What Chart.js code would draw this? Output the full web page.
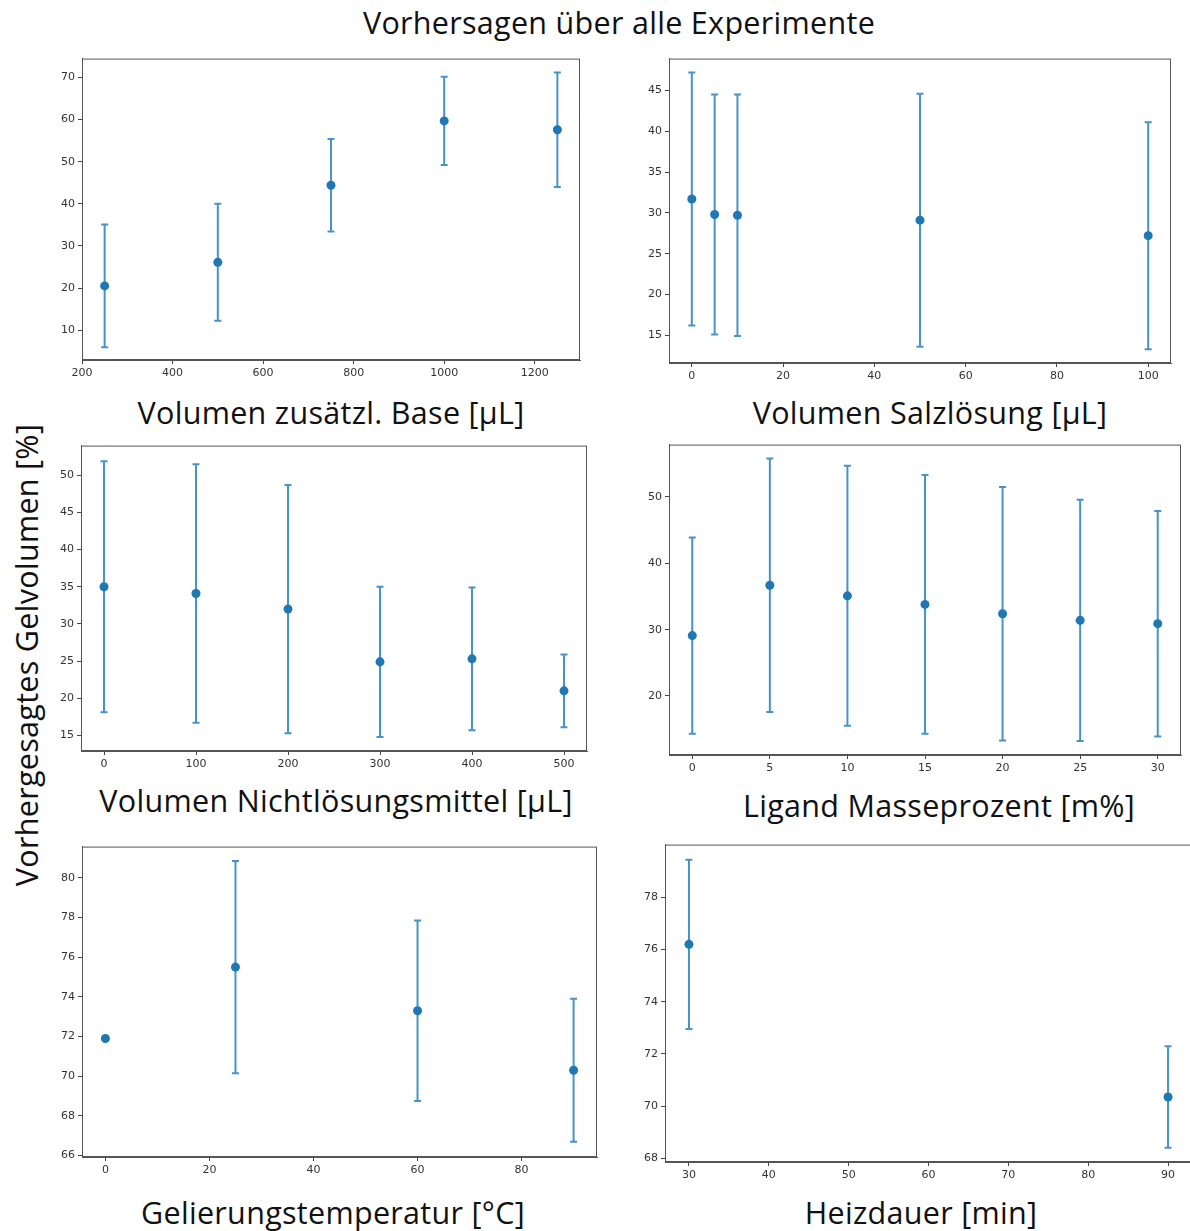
<!DOCTYPE html>
<html>
<head>
<meta charset="utf-8">
<script src="https://cdn.jsdelivr.net/npm/chart.js@4.4.1/dist/chart.umd.min.js"></script>
<style>
    html, body { margin: 0; padding: 0; background: #fff; overflow: hidden; }
    #page { position: relative; width: 1190px; height: 1231px; }
    canvas { position: absolute; }
    .lbl {
        position: absolute;
        font-family: "Open Sans", sans-serif;
        font-size: 30.5px;
        letter-spacing: 0.3px;
        color: #111;
        white-space: nowrap;
        transform: translate(-50%, -50%);
    }
    .ylbl { transform: translate(-50%, -50%) rotate(-90deg); }
</style>
</head>
<body>
<div id="page">
    <div class="lbl" style="left:619px; top:22px;">Vorhersagen über alle Experimente</div>
    <div class="lbl ylbl" style="left:26px; top:655px;">Vorhergesagtes Gelvolumen [%]</div>
    <div class="lbl" style="left:331px; top:412px;">Volumen zusätzl. Base [µL]</div>
    <div class="lbl" style="left:930px; top:412px;">Volumen Salzlösung [µL]</div>
    <div class="lbl" style="left:336px; top:800px;">Volumen Nichtlösungsmittel [µL]</div>
    <div class="lbl" style="left:939px; top:805px;">Ligand Masseprozent [m%]</div>
    <div class="lbl" style="left:333px; top:1212px;">Gelierungstemperatur [°C]</div>
    <div class="lbl" style="left:921px; top:1212px;">Heizdauer [min]</div>
</div>

<script>
// ================= DATA =================
// Volumen zusaetzl. Base
const baseX = [250, 500, 750, 1000, 1250];
const baseY = [20.5, 26.1, 44.4, 59.7, 57.6];
const baseErr = [14.6, 13.9, 11.0, 10.5, 13.6];
const baseXTicks = [200, 400, 600, 800, 1000, 1200];
const baseYTicks = [10, 20, 30, 40, 50, 60, 70];

// Volumen Salzloesung
const saltX = [0, 5, 10, 50, 100];
const saltY = [31.7, 29.8, 29.7, 29.1, 27.2];
const saltErr = [15.5, 14.7, 14.8, 15.5, 13.9];
const saltXTicks = [0, 20, 40, 60, 80, 100];
const saltYTicks = [15, 20, 25, 30, 35, 40, 45];

// Volumen Nichtloesungsmittel
const nonSolvX = [0, 100, 200, 300, 400, 500];
const nonSolvY = [35.0, 34.1, 32.0, 24.9, 25.3, 21.0];
const nonSolvErr = [16.9, 17.4, 16.7, 10.1, 9.6, 4.9];
const nonSolvXTicks = [0, 100, 200, 300, 400, 500];
const nonSolvYTicks = [15, 20, 25, 30, 35, 40, 45, 50];

// Ligand Masseprozent
const ligandX = [0, 5, 10, 15, 20, 25, 30];
const ligandY = [29.1, 36.7, 35.1, 33.8, 32.4, 31.4, 30.9];
const ligandErr = [14.8, 19.1, 19.6, 19.5, 19.1, 18.2, 17.0];
const ligandXTicks = [0, 5, 10, 15, 20, 25, 30];
const ligandYTicks = [20, 30, 40, 50];

// Gelierungstemperatur
const tempX = [0, 25, 60, 90];
const tempY = [71.9, 75.5, 73.3, 70.3];
const tempErr = [0, 5.35, 4.55, 3.6];
const tempXTicks = [0, 20, 40, 60, 80];
const tempYTicks = [66, 68, 70, 72, 74, 76, 78, 80];

// Heizdauer
const heatX = [30, 90];
const heatY = [76.2, 70.35];
const heatErr = [3.24, 1.94];
const heatXTicks = [30, 40, 50, 60, 70, 80, 90];
const heatYTicks = [68, 70, 72, 74, 76, 78];


// ================= LAYOUT =================
const AXIS_W = 45;
const AXIS_H = 28;
const PAD = 8;

const panels = [
    { x: baseX, y: baseY, err: baseErr, xTicks: baseXTicks, yTicks: baseYTicks,
      xRange: [200, 1300], yRange: [2.9, 74.5], box: [82, 57, 580, 360] },
    { x: saltX, y: saltY, err: saltErr, xTicks: saltXTicks, yTicks: saltYTicks,
      xRange: [-5, 105], yRange: [11.6, 48.9], box: [669, 57, 1171, 363] },
    { x: nonSolvX, y: nonSolvY, err: nonSolvErr, xTicks: nonSolvXTicks, yTicks: nonSolvYTicks,
      xRange: [-25, 525], yRange: [12.9, 54.0], box: [81, 444, 587, 751] },
    { x: ligandX, y: ligandY, err: ligandErr, xTicks: ligandXTicks, yTicks: ligandYTicks,
      xRange: [-1.5, 31.5], yRange: [11.1, 57.9], box: [669, 443, 1181, 755] },
    { x: tempX, y: tempY, err: tempErr, xTicks: tempXTicks, yTicks: tempYTicks,
      xRange: [-4.5, 94.5], yRange: [65.93, 81.57], box: [82, 845, 597, 1157] },
    { x: heatX, y: heatY, err: heatErr, xTicks: heatXTicks, yTicks: heatYTicks,
      xRange: [27, 93], yRange: [67.86, 80.02], box: [665, 843, 1192, 1162] }
];


// ================= PLUGINS =================
const errorBarPlugin = {
    id: "errorBars",
    beforeDatasetsDraw(chart) {
        const ctx = chart.ctx;
        const xScale = chart.scales.x;
        const yScale = chart.scales.y;
        const errs = chart.options.plugins.errorBars.errors;
        const pts = chart.data.datasets[0].data;

        ctx.save();
        ctx.strokeStyle = "#4892cb";
        ctx.lineWidth = 2;

        pts.forEach((p, i) => {
            const e = errs[i];
            if (!e) return;
            const px = xScale.getPixelForValue(p.x);
            const top = yScale.getPixelForValue(p.y + e);
            const bottom = yScale.getPixelForValue(p.y - e);
            ctx.beginPath();
            ctx.moveTo(px, top);
            ctx.lineTo(px, bottom);
            ctx.moveTo(px - 3.5, top);
            ctx.lineTo(px + 3.5, top);
            ctx.moveTo(px - 3.5, bottom);
            ctx.lineTo(px + 3.5, bottom);
            ctx.stroke();
        });

        ctx.restore();
    }
};

const framePlugin = {
    id: "frame",
    afterDraw(chart) {
        const a = chart.chartArea;
        const ctx = chart.ctx;
        ctx.save();
        ctx.strokeStyle = "#555";
        ctx.lineWidth = 1;
        ctx.strokeRect(a.left + 0.5, a.top + 0.5, a.right - a.left - 1, a.bottom - a.top - 1);
        ctx.restore();
    }
};


// ================= RENDER =================
function axisOptions(range, ticks, fitKey, fitSize) {
    return {
        type: "linear",
        min: range[0],
        max: range[1],
        afterBuildTicks(scale) {
            scale.ticks = ticks.map(v => ({ value: v }));
        },
        afterFit(scale) {
            scale[fitKey] = fitSize;
        },
        grid: {
            display: true,
            drawOnChartArea: false,
            drawTicks: true,
            tickLength: 4,
            color: "#444"
        },
        border: { display: true, color: "#555" },
        ticks: {
            color: "#333",
            padding: 3,
            maxRotation: 0,
            autoSkip: false,
            font: { family: "DejaVu Sans", size: 11 },
            callback: value => String(value)
        }
    };
}

function renderPanel(panel) {

    const [left, top, right, bottom] = panel.box;
    const canvas = document.createElement("canvas");
    const w = (right - left) + AXIS_W + PAD;
    const h = (bottom - top) + PAD + AXIS_H;

    canvas.width = w;
    canvas.height = h;
    canvas.style.left = (left - AXIS_W) + "px";
    canvas.style.top = (top - PAD) + "px";
    canvas.style.width = w + "px";
    canvas.style.height = h + "px";
    document.getElementById("page").appendChild(canvas);

    new Chart(canvas, {
        type: "scatter",
        data: {
            datasets: [{
                data: panel.x.map((xv, i) => ({ x: xv, y: panel.y[i] })),
                backgroundColor: "#1f77b4",
                borderWidth: 0,
                pointRadius: 4.5,
                pointHoverRadius: 4.5
            }]
        },
        options: {
            responsive: false,
            animation: false,
            devicePixelRatio: 1,
            layout: { padding: { top: PAD, right: PAD, left: 0, bottom: 0 } },
            plugins: {
                legend: { display: false },
                tooltip: { enabled: false },
                errorBars: { errors: panel.err }
            },
            scales: {
                x: axisOptions(panel.xRange, panel.xTicks, "height", AXIS_H),
                y: axisOptions(panel.yRange, panel.yTicks, "width", AXIS_W)
            }
        },
        plugins: [errorBarPlugin, framePlugin]
    });

}

panels.forEach(renderPanel);
</script>
</body>
</html>
